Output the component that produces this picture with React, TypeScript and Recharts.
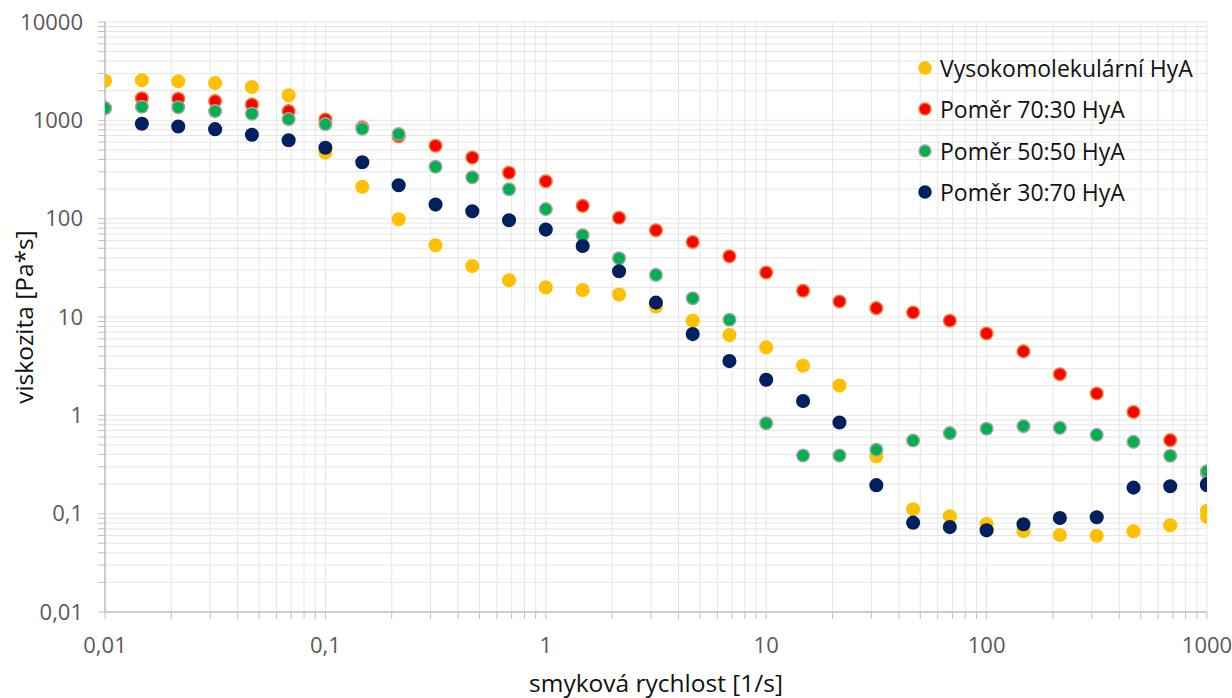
import { ScatterChart, Scatter, XAxis, YAxis, CartesianGrid, Legend } from 'recharts';

// shear rate [1/s], six points per decade, the last rate measured twice
const shearRates = [
  0.01, 0.0147, 0.0215, 0.0316, 0.0464, 0.0681,
  0.1, 0.147, 0.215, 0.316, 0.464, 0.681,
  1, 1.47, 2.15, 3.16, 4.64, 6.81,
  10, 14.7, 21.5, 31.6, 46.4, 68.1,
  100, 147, 215, 316, 464, 681,
  1000, 1000,
];

const highMwHyA = [
  2530, 2550, 2490, 2390, 2180, 1795,
  471, 211, 98.6, 53.6, 33, 23.6,
  20, 18.8, 16.9, 12.8, 9.17, 6.56,
  4.91, 3.19, 2.01, 0.384, 0.111, 0.094,
  0.0785, 0.0667, 0.0607, 0.0597, 0.0662, 0.0762,
  0.107, 0.093,
];

const ratio7030 = [
  1330, 1680, 1660, 1570, 1450, 1240,
  1020, 848, 690, 551, 419, 293,
  240, 135, 102, 76.2, 58, 41.4,
  28.3, 18.5, 14.4, 12.3, 11.1, 9.17,
  6.8, 4.47, 2.62, 1.67, 1.08, 0.559,
  0.265, 0.26,
];

const ratio5050 = [
  1330, 1375, 1360, 1240, 1167, 1028,
  914, 821, 725, 337, 264, 199,
  125, 67.8, 39.5, 26.8, 15.5, 9.38,
  0.83, 0.39, 0.39, 0.446, 0.555, 0.659,
  0.73, 0.776, 0.746, 0.633, 0.537, 0.388,
  0.266, 0.27,
];

const ratio3070 = [
  null, 923, 867, 813, 713, 628,
  526, 375, 219, 139, 119, 96.3,
  77.4, 52.8, 29.2, 14, 6.7, 3.56,
  2.3, 1.4, 0.845, 0.195, 0.081, 0.073,
  0.0677, 0.078, 0.0904, 0.0918, 0.184, 0.19,
  0.2, 0.195,
];

const xTicks = [
  0.01, 0.02, 0.03, 0.04, 0.05, 0.06, 0.07, 0.08, 0.09,
  0.1, 0.2, 0.3, 0.4, 0.5, 0.6, 0.7, 0.8, 0.9,
  1, 2, 3, 4, 5, 6, 7, 8, 9,
  10, 20, 30, 40, 50, 60, 70, 80, 90,
  100, 200, 300, 400, 500, 600, 700, 800, 900,
  1000,
];

const yTicks = [
  0.01, 0.02, 0.03, 0.04, 0.05, 0.06, 0.07, 0.08, 0.09,
  0.1, 0.2, 0.3, 0.4, 0.5, 0.6, 0.7, 0.8, 0.9,
  1, 2, 3, 4, 5, 6, 7, 8, 9,
  10, 20, 30, 40, 50, 60, 70, 80, 90,
  100, 200, 300, 400, 500, 600, 700, 800, 900,
  1000, 2000, 3000, 4000, 5000, 6000, 7000, 8000, 9000,
  10000,
];

const series = [
  { name: 'Vysokomolekulární HyA', values: highMwHyA, fill: '#FFC000', stroke: '#FFC000' },
  { name: 'Poměr 70:30 HyA', values: ratio7030, fill: '#FF0000', stroke: '#ED7D31' },
  { name: 'Poměr 50:50 HyA', values: ratio5050, fill: '#00B050', stroke: '#A5A5A5' },
  { name: 'Poměr 30:70 HyA', values: ratio3070, fill: '#002060', stroke: '#002060' },
];

const toPoints = (values: (number | null)[]) =>
  shearRates
    .map((x, i) => ({ x, y: values[i] }))
    .filter((p) => p.y != null);

const isDecade = (v: number) => {
  const l = Math.log10(v);
  return Math.abs(l - Math.round(l)) < 1e-9;
};

// czech decimal comma, labels only on decades
const fmtTick = (v: number) => (isDecade(v) ? String(v).replace('.', ',') : '');

const dot = (fill: string, stroke: string) => (props: any) =>
  <circle cx={props.cx} cy={props.cy} r={6.3} fill={fill} stroke={stroke} strokeWidth={1.5} />;

const renderLegend = () => (
  <div style={{ fontFamily: '"Open Sans", sans-serif', fontSize: 23, color: '#111' }}>
    {series.map((s) => (
      <div key={s.name} style={{ height: 41.5, display: 'flex', alignItems: 'center', whiteSpace: 'nowrap' }}>
        <svg width={26} height={20}>
          <circle cx={13} cy={10} r={6} fill={s.fill} stroke={s.stroke} strokeWidth={1.5} />
        </svg>
        <span style={{ marginLeft: 2 }}>{s.name}</span>
      </div>
    ))}
  </div>
);

export default function App() {
  return (
    <div style={{ position: 'absolute', left: 0, top: 0, width: 1232, height: 698, background: '#fff' }}>
      <ScatterChart
        width={1232}
        height={698}
        margin={{ top: 22, right: 25, bottom: 0, left: 0 }}
        style={{ fontFamily: '"Open Sans", sans-serif' }}
      >
        <CartesianGrid stroke="#E6E6E6" strokeWidth={1} />
        <XAxis
          type="number"
          dataKey="x"
          scale="log"
          domain={[0.01, 1000]}
          ticks={xTicks}
          interval={0}
          allowDataOverflow
          tickFormatter={fmtTick}
          height={86}
          tickSize={7}
          tickMargin={18}
          axisLine={{ stroke: '#BFBFBF', strokeWidth: 1.5 }}
          tickLine={{ stroke: '#BFBFBF', strokeWidth: 1 }}
          tick={{ fill: '#595959', fontSize: 22 }}
          label={{ value: 'smyková rychlost [1/s]', position: 'insideBottom', offset: 6, fill: '#111', fontSize: 24.5 }}
        />
        <YAxis
          type="number"
          dataKey="y"
          scale="log"
          domain={[0.01, 10000]}
          ticks={yTicks}
          interval={0}
          allowDataOverflow
          tickFormatter={fmtTick}
          width={105}
          tickSize={7}
          tickMargin={15}
          axisLine={{ stroke: '#BFBFBF', strokeWidth: 1.5 }}
          tickLine={{ stroke: '#BFBFBF', strokeWidth: 1 }}
          tick={{ fill: '#595959', fontSize: 22 }}
          label={{
            value: 'viskozita [Pa*s]',
            angle: -90,
            position: 'insideLeft',
            offset: 24,
            fill: '#111',
            fontSize: 24.5,
            style: { textAnchor: 'middle' },
          }}
        />
        <Legend
          layout="vertical"
          align="center"
          verticalAlign="middle"
          wrapperStyle={{ top: 47, left: 912, width: 318 }}
          content={renderLegend}
        />
        {series.map((s) => (
          <Scatter
            key={s.name}
            name={s.name}
            data={toPoints(s.values)}
            fill={s.fill}
            shape={dot(s.fill, s.stroke)}
            isAnimationActive={false}
          />
        ))}
      </ScatterChart>
    </div>
  );
}
